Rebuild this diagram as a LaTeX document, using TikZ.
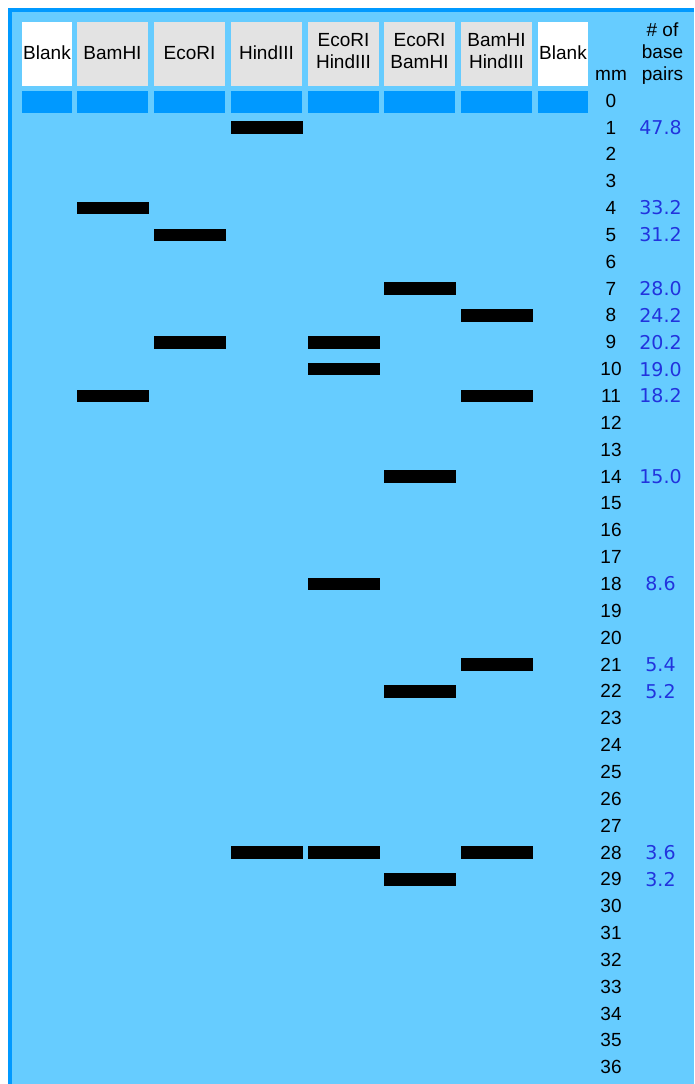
\documentclass[tikz,border=0pt]{standalone}
\usepackage{fontspec}
\setmainfont{Liberation Sans}
\newfontfamily\bpfont{DejaVu Sans}
\definecolor{gelbg}{HTML}{66CCFF}
\definecolor{gelborder}{HTML}{0099FF}
\definecolor{hdrgray}{HTML}{E3E3E3}
\definecolor{bpblue}{HTML}{2233DD}
\begin{document}
\begin{tikzpicture}[x=1pt,y=-1pt,
  hdrbox/.style={inner sep=0pt, minimum height=64pt, minimum width=#1, anchor=north},
  wellbox/.style={fill=gelborder, inner sep=0pt, minimum height=22pt, minimum width=#1, anchor=north},
  bandbox/.style={fill=black, inner sep=0pt, minimum height=12.5pt, minimum width=72pt},
  hdrtxt/.style={inner sep=0pt, font=\fontsize{19}{22}\selectfont, align=center, anchor=base},
  mmtxt/.style={inner sep=0pt, font=\fontsize{19}{22}\selectfont},
  bptxt/.style={inner sep=0pt, text=bpblue, font=\bpfont\fontsize{19}{22}\selectfont}]
\useasboundingbox (0,0) rectangle (694,1084);
\fill[gelborder] (8,8) rectangle (694,1084);
\fill[gelbg] (12,12) rectangle (694,1084);
% header boxes
\node[hdrbox=50pt, fill=white]   (h1) at (47,22) {};
\node[hdrbox=71pt, fill=hdrgray] (h2) at (112.5,22) {};
\node[hdrbox=71pt, fill=hdrgray] (h3) at (189.5,22) {};
\node[hdrbox=71pt, fill=hdrgray] (h4) at (266.5,22) {};
\node[hdrbox=71pt, fill=hdrgray] (h5) at (343.5,22) {};
\node[hdrbox=71pt, fill=hdrgray] (h6) at (419.5,22) {};
\node[hdrbox=71pt, fill=hdrgray] (h7) at (496.5,22) {};
\node[hdrbox=50pt, fill=white]   (h8) at (563,22) {};
% header texts
\node[hdrtxt] (t1) at (47,59) {Blank};
\node[hdrtxt] (t2) at (112.5,59) {BamHI};
\node[hdrtxt] (t3) at (189.5,59) {EcoRI};
\node[hdrtxt] (t4) at (266.5,59) {HindIII};
\node[hdrtxt] (t5) at (343.5,68) {EcoRI\\HindIII};
\node[hdrtxt] (t6) at (419.5,68) {EcoRI\\BamHI};
\node[hdrtxt] (t7) at (496.5,68) {BamHI\\HindIII};
\node[hdrtxt] (t8) at (563,59) {Blank};
\node[hdrtxt] (tmm) at (611,80) {mm};
\node[hdrtxt] (tbp) at (662.5,80) {\# of\\base\\pairs};
% wells
\node[wellbox=50pt] (w1) at (47,91) {};
\node[wellbox=71pt] (w2) at (112.5,91) {};
\node[wellbox=71pt] (w3) at (189.5,91) {};
\node[wellbox=71pt] (w4) at (266.5,91) {};
\node[wellbox=71pt] (w5) at (343.5,91) {};
\node[wellbox=71pt] (w6) at (419.5,91) {};
\node[wellbox=71pt] (w7) at (496.5,91) {};
\node[wellbox=50pt] (w8) at (563,91) {};
% bands
\foreach \c/\x in {2/113, 3/190, 4/266.5, 5/343.5, 6/420, 7/496.5}{}
\foreach \c/\x/\m in {2/113/4, 2/113/11,
                     3/190/5, 3/190/9,
                     4/266.5/1, 4/266.5/28,
                     5/343.5/9, 5/343.5/10, 5/343.5/18, 5/343.5/28,
                     6/420/7, 6/420/14, 6/420/22, 6/420/29,
                     7/496.5/8, 7/496.5/11, 7/496.5/21, 7/496.5/28}{
  \node[bandbox] (b\c-\m) at (\x,{127.5+(\m-1)*26.85}) {};
}
% mm scale
\foreach \m in {0,...,36}{
  \node[mmtxt] (mm\m) at (611,{127.5+(\m-1)*26.85}) {\m};
}
% base pairs
\foreach \m/\v in {1/47.8, 4/33.2, 5/31.2, 7/28.0, 8/24.2, 9/20.2, 10/19.0, 11/18.2,
                   14/15.0, 18/8.6, 21/5.4, 22/5.2, 28/3.6, 29/3.2}{
  \node[bptxt] (bp\m) at (660.5,{127.5+(\m-1)*26.85}) {\v};
}
\end{tikzpicture}
\end{document}
